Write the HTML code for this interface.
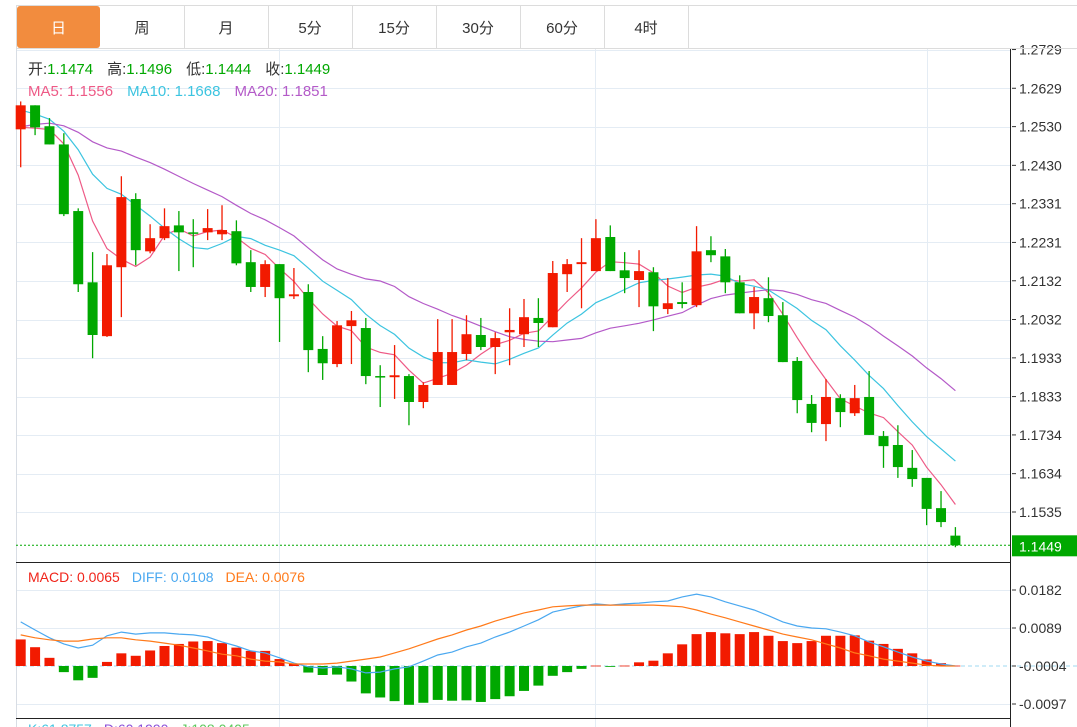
<!DOCTYPE html>
<html><head><meta charset="utf-8"><style>
html,body{margin:0;padding:0;background:#fff;}
svg{display:block;font-family:"Liberation Sans","Noto Sans CJK SC",sans-serif;}
</style></head><body>
<svg id="c" width="1077" height="727" viewBox="0 0 1077 727" xmlns="http://www.w3.org/2000/svg">
<g id="tabs">
  <line x1="16" y1="5.5" x2="1077" y2="5.5" stroke="#dcdcdc"/>
  <line x1="16" y1="48.5" x2="1077" y2="48.5" stroke="#dcdcdc"/>
  <rect x="17" y="6" width="83" height="42" rx="3" fill="#f28c3e"/>
  <text x="58.5" y="33" text-anchor="middle" font-size="15" fill="#fff">日</text>
  <g fill="#333" font-size="15" text-anchor="middle">
   <text x="142" y="33">周</text>
   <text x="226" y="33">月</text>
   <text x="310" y="33">5分</text>
   <text x="394" y="33">15分</text>
   <text x="478" y="33">30分</text>
   <text x="562" y="33">60分</text>
   <text x="646" y="33">4时</text>
  </g>
  <g stroke="#dcdcdc">
   <line x1="16.5" y1="5" x2="16.5" y2="48"/><line x1="184.5" y1="5" x2="184.5" y2="48"/><line x1="268.5" y1="5" x2="268.5" y2="48"/><line x1="352.5" y1="5" x2="352.5" y2="48"/><line x1="436.5" y1="5" x2="436.5" y2="48"/><line x1="520.5" y1="5" x2="520.5" y2="48"/><line x1="604.5" y1="5" x2="604.5" y2="48"/><line x1="688.5" y1="5" x2="688.5" y2="48"/>
  </g>
</g>
<g id="grid"></g>
<g id="ma"></g>
<g id="candles"></g>
<g id="macd"></g>
<g id="axis"></g>
<g id="legend" font-size="15">
  <text x="28" y="74"><tspan fill="#333">开:</tspan><tspan fill="#00a800">1.1474</tspan><tspan fill="#333" dx="14">高:</tspan><tspan fill="#00a800">1.1496</tspan><tspan fill="#333" dx="14">低:</tspan><tspan fill="#00a800">1.1444</tspan><tspan fill="#333" dx="14">收:</tspan><tspan fill="#00a800">1.1449</tspan></text>
  <text x="28" y="96"><tspan fill="#ee5a86">MA5: 1.1556</tspan><tspan dx="14" fill="#3cc4e0">MA10: 1.1668</tspan><tspan dx="14" fill="#b45ac8">MA20: 1.1851</tspan></text>
  <text x="28" y="582" font-size="14"><tspan fill="#f0241a">MACD: 0.0065</tspan><tspan dx="12" fill="#4aa8f0">DIFF: 0.0108</tspan><tspan dx="12" fill="#ff7a1a">DEA: 0.0076</tspan></text>
  <text x="28" y="734" font-size="14"><tspan fill="#3cc4e0">K:61.8757</tspan><tspan dx="12" fill="#8a4fd8">D:60.1990</tspan><tspan dx="12" fill="#5cc85c">J:108.0405</tspan></text>
</g>
</svg>
<script>
const opens=[1.2523,1.2585,1.2531,1.2484,1.2312,1.2128,1.1989,1.2167,1.2343,1.2208,1.2242,1.2275,1.2257,1.2257,1.2252,1.2260,1.2180,1.2116,1.2175,1.2092,1.2103,1.1956,1.1917,1.2015,1.2010,1.1886,1.1883,1.1886,1.1819,1.1863,1.1863,1.1943,1.1992,1.1961,1.1999,1.1994,1.2036,1.2012,1.2149,1.2175,1.2157,1.2245,1.2159,1.2134,1.2154,1.2059,1.2077,1.2069,1.2211,1.2195,1.2128,1.2048,1.2087,1.2043,1.1925,1.1814,1.1762,1.1829,1.1790,1.1832,1.1731,1.1708,1.1649,1.1623,1.1545,1.1474];
const highs=[1.2595,1.2585,1.2552,1.2513,1.2319,1.2206,1.2201,1.2402,1.2358,1.2278,1.2319,1.2312,1.2291,1.2317,1.2327,1.2288,1.2211,1.2185,1.2175,1.2165,1.2123,1.1989,1.2028,1.2054,1.2036,1.1914,1.1966,1.1891,1.1870,1.2033,1.2033,1.2043,1.2036,1.1999,1.2061,1.2085,1.2087,1.2183,1.2188,1.2242,1.2291,1.2275,1.2206,1.2211,1.2167,1.2139,1.2128,1.2273,1.2247,1.2214,1.2146,1.2116,1.2141,1.2077,1.1935,1.1837,1.1878,1.1839,1.1863,1.1899,1.1744,1.1759,1.1695,1.1623,1.1589,1.1496];
const lows=[1.2425,1.2508,1.2484,1.2299,1.2103,1.1932,1.1987,1.2038,1.2172,1.2203,1.2237,1.2157,1.2167,1.2237,1.2237,1.2172,1.2103,1.2090,1.1974,1.2085,1.1896,1.1876,1.1909,1.1917,1.1865,1.1806,1.1827,1.1759,1.1803,1.1863,1.1863,1.1927,1.1953,1.1891,1.1914,1.1961,1.1961,1.2012,1.2103,1.2061,1.2157,1.2157,1.2100,1.2064,1.2002,1.2046,1.2061,1.2064,1.2180,1.2100,1.2048,1.2007,1.2025,1.1922,1.1790,1.1741,1.1718,1.1754,1.1783,1.1734,1.1649,1.1623,1.1600,1.1501,1.1496,1.1444];
const closes=[1.2585,1.2528,1.2484,1.2304,1.2123,1.1992,1.2172,1.2348,1.2211,1.2242,1.2273,1.2257,1.2255,1.2268,1.2263,1.2177,1.2116,1.2175,1.2087,1.2097,1.1953,1.1919,1.2017,1.2030,1.1886,1.1883,1.1888,1.1819,1.1863,1.1948,1.1948,1.1994,1.1961,1.1984,1.2005,1.2038,1.2023,1.2152,1.2175,1.2180,1.2242,1.2157,1.2139,1.2157,1.2066,1.2074,1.2072,1.2208,1.2198,1.2128,1.2048,1.2090,1.2041,1.1922,1.1824,1.1765,1.1832,1.1793,1.1829,1.1734,1.1705,1.1651,1.1620,1.1543,1.1509,1.1449];
const prevCloses=[1.2400,1.2420,1.2440,1.2460,1.2480,1.2490,1.2510,1.2520,1.2530,1.2610,1.2630,1.2620,1.2610,1.2600,1.2625,1.2540,1.2500,1.2490,1.2526];
const macdHist=[0.0065,0.0046,0.0020,-0.0015,-0.0035,-0.0029,0.0010,0.0031,0.0025,0.0038,0.0049,0.0054,0.0060,0.0061,0.0056,0.0045,0.0037,0.0037,0.0017,0.0005,-0.0016,-0.0022,-0.0021,-0.0038,-0.0067,-0.0077,-0.0086,-0.0095,-0.0090,-0.0083,-0.0085,-0.0084,-0.0088,-0.0081,-0.0074,-0.0061,-0.0048,-0.0024,-0.0015,-0.0007,0.0001,-0.0002,0.0001,0.0009,0.0013,0.0031,0.0053,0.0078,0.0083,0.0080,0.0078,0.0083,0.0074,0.0061,0.0056,0.0061,0.0074,0.0074,0.0075,0.0062,0.0054,0.0042,0.0031,0.0016,0.0007,0.0001];
const diffVals=[0.0108,0.0088,0.0069,0.0054,0.0044,0.0051,0.0074,0.0083,0.0078,0.0081,0.0081,0.0078,0.0076,0.0071,0.0059,0.0049,0.0037,0.0032,0.0020,0.0007,-0.0002,-0.0005,-0.0002,-0.0007,-0.0017,-0.0015,-0.0007,-0.0002,0.0012,0.0027,0.0034,0.0047,0.0056,0.0071,0.0083,0.0098,0.0113,0.0132,0.0140,0.0147,0.0152,0.0149,0.0152,0.0154,0.0157,0.0159,0.0169,0.0176,0.0169,0.0157,0.0147,0.0137,0.0123,0.0108,0.0098,0.0093,0.0091,0.0083,0.0074,0.0059,0.0047,0.0034,0.0022,0.0012,0.0005,0.0000];
const deaVals=[0.0076,0.0069,0.0064,0.0061,0.0061,0.0066,0.0069,0.0069,0.0064,0.0061,0.0056,0.0051,0.0044,0.0037,0.0029,0.0025,0.0017,0.0012,0.0010,0.0005,0.0005,0.0005,0.0007,0.0012,0.0017,0.0022,0.0032,0.0042,0.0054,0.0066,0.0076,0.0088,0.0098,0.0110,0.0120,0.0130,0.0137,0.0145,0.0147,0.0149,0.0149,0.0149,0.0149,0.0149,0.0149,0.0147,0.0145,0.0137,0.0127,0.0118,0.0108,0.0098,0.0088,0.0078,0.0071,0.0064,0.0054,0.0044,0.0032,0.0025,0.0017,0.0012,0.0007,0.0002,0.0000,0.0000];
const priceTicks=[1.2729,1.2629,1.2530,1.2430,1.2331,1.2231,1.2132,1.2032,1.1933,1.1833,1.1734,1.1634,1.1535];
const macdTicks=[0.0186,0.0093,0,-0.0093];
const macdTickLabels=['0.0182','0.0089','-0.0004','-0.0097'];
const lastPrice=1.1449;

const NS='http://www.w3.org/2000/svg';
const L=16,R=1010,STEP=14.38,X0=20.7;
const xAt=i=>X0+i*STEP;
const yP=p=>512-(p-1.1535)*3873.2;
const yM=v=>666-v*4086;
function mk(parent,tag,attrs){const e=document.createElementNS(NS,tag);for(const k in attrs)e.setAttribute(k,attrs[k]);document.getElementById(parent).appendChild(e);return e;}

// grid
priceTicks.forEach(p=>{const y=Math.round(yP(p))+0.5;const g=mk('grid','line',{x1:L,y1:y,x2:R,y2:y,stroke:'#e4ecf4'});

});
macdTicks.forEach((v,k)=>{if(v===0)return;const y=Math.round(yM(v))+0.5;const g=mk('grid','line',{x1:L,y1:y,x2:R,y2:y,stroke:'#e4ecf4'});

});
[279,595,927].forEach(x=>{const g=mk('grid','line',{x1:x+0.5,y1:49,x2:x+0.5,y2:727,stroke:'#e4ecf4'});

});
{const g=mk('grid','line',{x1:16.5,y1:48,x2:16.5,y2:727,stroke:'#d8dde4'});

}
{const g=mk('grid','line',{x1:L,y1:545.5,x2:R,y2:545.5,stroke:'#00a800','stroke-dasharray':'2,2'});

g.setAttribute('y1',yP(lastPrice));g.setAttribute('y2',yP(lastPrice));}

// MA
const all=prevCloses.concat(closes);const off=prevCloses.length;
function ma(n){return closes.map((c,i)=>{let s=0;for(let j=0;j<n;j++)s+=all[off+i-j];return s/n;});}
[[5,'#ee5a86','ma5-line'],[10,'#3cc4e0','ma10-line'],[20,'#b45ac8','ma20-line']].forEach(([n,col,name])=>{
 const v=ma(n);const pts=v.map((p,i)=>xAt(i).toFixed(1)+','+yP(p).toFixed(1)).join(' ');
 const e=mk('ma','polyline',{points:pts,fill:'none',stroke:col,'stroke-width':1.2});
 
 
});

// candles
closes.forEach((c,i)=>{
 const o=opens[i],up=c>=o,col=up?'#f21a00':'#00a800',x=xAt(i);
 const w=mk('candles','line',{x1:x,y1:yP(highs[i]),x2:x,y2:yP(lows[i]),stroke:col,'stroke-width':1.3});
 
 
 const t=yP(Math.max(o,c)),b=yP(Math.min(o,c));
 const r=mk('candles','rect',{x:x-5,y:t,width:10,height:Math.max(1.5,b-t),fill:col});
 
 
});

// macd
{const z=mk('macd','line',{x1:L,y1:yM(0),x2:1077,y2:yM(0),stroke:'#9fd8f0','stroke-dasharray':'4,3'});

}
macdHist.forEach((v,i)=>{const x=xAt(i),y0=yM(0),y1=yM(v);
 const r=mk('macd','rect',{x:x-5,y:Math.min(y0,y1),width:10,height:Math.max(0.8,Math.abs(y1-y0)),fill:v>=0?'#f21a00':'#00a800'});
 
 });
[[diffVals,'#4aa8f0','diff-line'],[deaVals,'#ff7a1a','dea-line']].forEach(([arr,col,name])=>{
 const e=mk('macd','polyline',{points:arr.map((v,i)=>xAt(i).toFixed(1)+','+yM(v).toFixed(1)).join(' '),fill:'none',stroke:col,'stroke-width':1.2});
 
 });

// axes
{const a=mk('axis','line',{x1:1010.5,y1:48,x2:1010.5,y2:727,stroke:'#222'});

}
[[562.5,'pane-divider'],[718.5,'pane-divider']].forEach(([y,n])=>{const a=mk('axis','line',{x1:L,y1:y,x2:R,y2:y,stroke:'#222'});

});
priceTicks.forEach(p=>{const y=yP(p);
 const tk=mk('axis','line',{x1:1012,y1:y,x2:1016,y2:y,stroke:'#333'});
 
 
 const t=mk('axis','text',{x:1019,y:y+5,'font-size':14,fill:'#333'});t.textContent=p.toFixed(4);
 
 });
macdTicks.forEach((v,k)=>{const y=yM(v);
 const tk=mk('axis','line',{x1:1012,y1:y,x2:1016,y2:y,stroke:'#333'});
 
 
 const t=mk('axis','text',{x:1019,y:y+5,'font-size':14,fill:'#333'});t.textContent=macdTickLabels[k];
 
 });
{const y=yP(lastPrice);
 const b=mk('axis','rect',{x:1012,y:y-10,width:65,height:21,fill:'#00a800'});
 
 
 const t=mk('axis','text',{x:1019,y:y+6,'font-size':14,fill:'#fff'});t.textContent=lastPrice.toFixed(4);
 
 }
// mask tab overlap
{const m=document.getElementById('tabs');document.getElementById('c').appendChild(m);}
</script>
</body></html>
